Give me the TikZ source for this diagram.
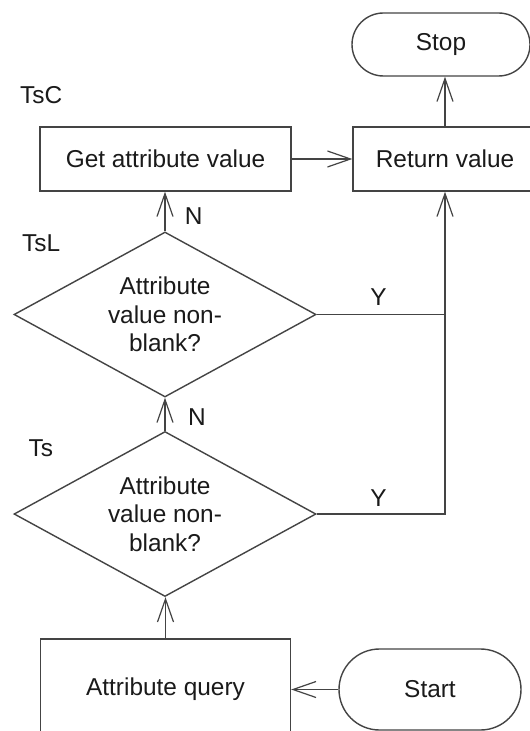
\documentclass[tikz,border=0pt]{standalone}
\usepackage{fontspec}
\setmainfont{Liberation Sans}
\usetikzlibrary{shapes.geometric,shapes.misc,arrows.meta}
\definecolor{ln}{HTML}{444444}
\definecolor{tx}{HTML}{1A1A1A}
\tikzset{
  base/.style={draw=ln, line width=1.4bp, text=tx, font=\fontsize{24.5}{28.6}\selectfont, inner sep=0pt},
  box/.style={base, rectangle},
  term/.style={base, rounded rectangle},
  decision/.style={base, diamond},
  lbl/.style={text=tx, font=\fontsize{24.5}{28.6}\selectfont, inner sep=0pt},
  conn/.style={draw=ln, line width=1.4bp},
  arr/.style={conn, -{Straight Barb[length=23bp,width=16bp,line width=1.2bp]}},
}
\begin{document}
\begin{tikzpicture}[x=1bp,y=-1bp]
\clip (0,0) rectangle (530,731);
\fill[white] (0,0) rectangle (530,731);

\node[term, minimum width=178bp, minimum height=63bp] (stop) at (441,44.5) {Stop};
\node[box, minimum width=184bp, minimum height=64bp] (rv) at (445,159) {Return value};
\node[box, minimum width=251bp, minimum height=64bp] (get) at (165.5,159) {Get attribute value};
\node[decision, minimum width=302bp, minimum height=165bp,
  label={[lbl, align=center]center:{Attribute\\value non-\\blank?}}] (d1) at (165,314.5) {};
\node[decision, minimum width=302bp, minimum height=165bp,
  label={[lbl, align=center]center:{Attribute\\value non-\\blank?}}] (d2) at (165,514) {};
\node[box, minimum width=250bp, minimum height=100bp] (aq) at (165.5,689) {Attribute query};
\node[term, minimum width=182bp, minimum height=81bp] (start) at (430,689.5) {Start};

\node[lbl, anchor=west] (tsc) at (20,94.7) {TsC};
\node[lbl, anchor=west] (tsl) at (22,243) {TsL};
\node[lbl, anchor=west] (ts) at (28.5,447.8) {Ts};
\node[lbl] (n1) at (193.7,216) {N};
\node[lbl] (n2) at (197,417) {N};
\node[lbl] (y1) at (378.6,297) {Y};
\node[lbl] (y2) at (378.6,498) {Y};

\draw[arr] (get.east) -- (rv.west);
\draw[arr] (rv.north) -- (rv.north |- stop.south);
\draw[arr] (d1.north) -- (d1.north |- get.south);
\draw[arr] (d2.north) -- (d1.south);
\draw[arr] (aq.north) -- (aq.north |- d2.south);
\draw[arr] (start.west) -- (start.west -| aq.east);
\draw[conn] (d1.east) -- (d1.east -| rv.south);
\draw[arr] (d2.east) -- (d2.east -| rv.south) -- (rv.south);
\end{tikzpicture}
\end{document}
